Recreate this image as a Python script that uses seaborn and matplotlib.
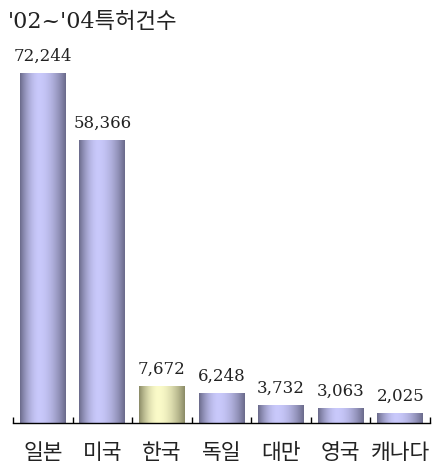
import numpy as np
import pandas as pd
import matplotlib
matplotlib.use("Agg")
import matplotlib.pyplot as plt
import seaborn as sns

# Patent counts 2002-2004 by country
countries = ["일본", "미국", "한국", "독일", "대만", "영국", "캐나다"]
counts = [72244, 58366, 7672, 6248, 3732, 3063, 2025]
highlight = "한국"
title = "'02~'04특허건수"

sns.set_theme(style="white")
plt.rcParams["font.family"] = ["DejaVu Serif", "Noto Sans CJK KR", "DejaVu Sans"]

df = pd.DataFrame({"country": countries, "count": counts})

fig = plt.figure(figsize=(4.35, 4.68), dpi=100)
ax = fig.add_axes([13 / 435, 0.0962, 417 / 435, 0.8282])

palette = {c: ("#f0f0c0" if c == highlight else "#c0c0f0") for c in countries}
sns.barplot(data=df, x="country", y="count", hue="country", palette=palette,
            legend=False, width=0.77, ax=ax, saturation=1)


def gradient(dark, light, n=256, peak=0.42):
    t = np.linspace(0, 1, n)
    d = np.where(t < peak, (peak - t) / peak, (t - peak) / (1 - peak))
    w = 1 - d ** 1.8
    dark = np.array(dark) / 255.0
    light = np.array(light) / 255.0
    rgb = dark[None, :] + (light - dark)[None, :] * w[:, None]
    return rgb[None, :, :]


grad_blue = gradient((0x6a, 0x6a, 0x8a), (0xc9, 0xc9, 0xfb))
grad_gold = gradient((0x8a, 0x8a, 0x66), (0xfb, 0xfb, 0xc9))

for patch, c in zip(ax.patches, countries):
    x, y = patch.get_x(), patch.get_y()
    w, h = patch.get_width(), patch.get_height()
    patch.set_facecolor("none")
    patch.set_edgecolor("none")
    g = grad_gold if c == highlight else grad_blue
    im = ax.imshow(g, extent=[x, x + w, y, y + h], aspect="auto",
                   interpolation="bilinear", zorder=2)
    im.set_clip_path(patch)
    ax.annotate(f"{int(h):,}", (x + w / 2, h), xytext=(0, 6),
                textcoords="offset points", ha="center", va="bottom",
                fontsize=12, color="#222222")

ax.set_xlim(-0.5, len(countries) - 0.5)
ax.set_ylim(0, 80000)
ax.set_xlabel("")
ax.set_ylabel("")
ax.set_yticks([])
ax.set_xticks(range(len(countries)))
ax.set_xticklabels(countries, fontsize=15.5, color="#222222",
                   family=["Noto Sans CJK KR", "DejaVu Sans"])
ax.set_xticks(np.arange(-0.5, len(countries), 1.0), minor=True)
ax.tick_params(axis="x", which="major", length=0, pad=14)
ax.tick_params(axis="x", which="minor", direction="in", length=4, width=1,
               color="black", bottom=True)

for side in ["top", "right", "left"]:
    ax.spines[side].set_visible(False)
ax.spines["bottom"].set_color("black")
ax.spines["bottom"].set_linewidth(1)

fig.text(8 / 435, 1 - 22 / 468, title, fontsize=16, va="center", ha="left",
         color="#222222")

fig.savefig("out.png", dpi=100)
